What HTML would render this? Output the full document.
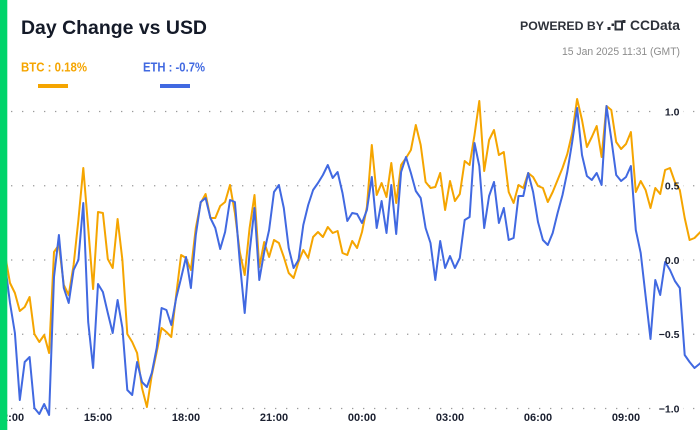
<!DOCTYPE html>
<html>
<head>
<meta charset="utf-8">
<style>
  html,body{margin:0;padding:0;background:#fff;}
  body{width:700px;height:430px;overflow:hidden;}
  svg{display:block;font-family:"Liberation Sans", "DejaVu Sans", sans-serif;}
</style>
</head>
<body>
<svg width="700" height="430" viewBox="0 0 700 430" xmlns="http://www.w3.org/2000/svg">
  <rect x="0" y="0" width="700" height="430" fill="#ffffff"/>

  <!-- Title -->
  <text x="21" y="34" font-size="19.5" font-weight="bold" fill="#141a28" textLength="186" lengthAdjust="spacingAndGlyphs">Day Change vs USD</text>

  <!-- Legend -->
  <text x="21" y="71.7" font-size="12.5" font-weight="bold" fill="#f5a500" textLength="66" lengthAdjust="spacingAndGlyphs">BTC : 0.18%</text>
  <rect x="38" y="84" width="30" height="4" fill="#f5a500"/>
  <text x="143" y="71.7" font-size="12.5" font-weight="bold" fill="#4169e1" textLength="62" lengthAdjust="spacingAndGlyphs">ETH : -0.7%</text>
  <rect x="160" y="84" width="30" height="4" fill="#4169e1"/>

  <!-- Powered by -->
  <text x="520" y="30" font-size="12" font-weight="bold" fill="#2e323a" textLength="84" lengthAdjust="spacingAndGlyphs">POWERED BY</text>
  <g fill="#2e323a">
    <rect x="607.5" y="27" width="3" height="3"/>
    <rect x="611.5" y="23.5" width="2.5" height="2.5"/>
    <rect x="615.5" y="21.5" width="6.5" height="8" fill="none" stroke="#2e323a" stroke-width="2"/>
    <rect x="622.5" y="20" width="3" height="3"/>
  </g>
  <text x="630" y="30" font-size="13.5" font-weight="bold" fill="#2e323a" textLength="50" lengthAdjust="spacingAndGlyphs">CCData</text>
  <text x="562" y="55" font-size="11" fill="#8c8c8c" textLength="118" lengthAdjust="spacingAndGlyphs">15 Jan 2025 11:31 (GMT)</text>

  <!-- Grid lines (dotted) -->
  <g stroke="#8f8f8f" stroke-width="1.2" stroke-dasharray="1.2 9.8" fill="none">
    <line x1="11.1" y1="111.5" x2="700" y2="111.5"/>
    <line x1="11.1" y1="185.75" x2="700" y2="185.75"/>
    <line x1="11.1" y1="260" x2="700" y2="260"/>
    <line x1="11.1" y1="334.25" x2="700" y2="334.25"/>
    <line x1="11.1" y1="408.5" x2="700" y2="408.5"/>
  </g>
  <!-- label backgrounds -->
  <g fill="#ffffff">
    <rect x="655" y="105" width="28" height="13"/>
    <rect x="655" y="179" width="28" height="13"/>
    <rect x="655" y="253.5" width="28" height="13"/>
    <rect x="655" y="328" width="28" height="13"/>
    <rect x="655" y="402" width="28" height="13"/>
  </g>

  <!-- BTC series -->
  <path fill="none" stroke="#f5a500" stroke-width="2" stroke-linejoin="round" d="M5.1,255 L10,283 L14.9,293 L19.8,311 L24.7,307 L29.6,297 L34.4,334 L39.3,342 L44.2,335 L49.1,353 L54,252 L58.9,245 L63.8,285 L68.7,295 L73.6,265 L78.4,220 L83.3,168 L88.2,228 L93.1,289 L98,212 L102.9,213 L107.8,259 L112.7,268 L117.6,219 L122.4,260 L127.3,334 L132.2,342 L137.1,353 L142,388 L146.9,407 L151.8,375 L156.7,352 L161.6,328 L166.4,332 L171.3,337 L176.2,295 L181.1,255 L186,258 L190.9,270 L195.8,228 L200.7,203 L205.6,194 L210.4,218 L215.3,218 L220.2,206 L225.1,202 L230,185 L234.9,213 L239.8,252 L244.7,275 L249.6,228 L254.5,195 L259.3,267 L264.2,242 L269.1,257 L274,240 L278.9,243 L283.8,257 L288.7,273 L293.6,278 L298.5,262 L303.3,250 L308.2,258 L313.1,237 L318,232 L322.9,237 L327.8,227 L332.7,233 L337.6,231 L342.5,253 L347.3,255 L352.2,241 L357.1,248 L362,232 L366.9,207 L371.8,145 L376.7,195 L381.6,183 L386.5,197 L391.3,163 L396.2,203 L401.1,165 L406,158 L410.9,150 L415.8,125 L420.7,145 L425.6,182 L430.5,188 L435.3,187 L440.2,173 L445.1,210 L450,181 L454.9,201 L459.8,194 L464.7,161 L469.6,165 L474.5,135 L479.3,101 L484.2,171 L489.1,140 L494,130 L498.9,155 L503.8,152 L508.7,192 L513.6,203 L518.5,185 L523.3,188 L528.2,173 L533.1,177 L538,186 L542.9,188 L547.8,202 L552.7,192 L557.6,180 L562.5,168 L567.3,154 L572.2,133 L577.1,99 L582,120 L586.9,147 L591.8,137 L596.7,126 L601.6,157 L606.5,106 L611.3,110 L616.2,142 L621.1,149 L626,144 L630.9,132 L635.8,192 L640.7,181 L645.6,190 L650.5,208 L655.3,188 L660.2,194 L665.1,170 L670,168 L674.9,182 L679.8,190 L684.7,218 L689.6,240 L694.5,238 L699.4,233 L704,228"/>

  <!-- ETH series -->
  <path fill="none" stroke="#4169e1" stroke-width="2" stroke-linejoin="round" d="M5.1,265 L10,303 L14.9,333 L19.8,400 L24.7,362 L29.6,357 L34.4,408 L39.3,414 L44.2,404 L49.1,415 L54,277 L58.9,235 L63.8,288 L68.7,303 L73.6,270 L78.4,260 L83.3,203 L88.2,322 L93.1,368 L98,284 L102.9,292 L107.8,313 L112.7,333 L117.6,300 L122.4,328 L127.3,390 L132.2,395 L137.1,362 L142,382 L146.9,387 L151.8,373 L156.7,348 L161.6,308 L166.4,310 L171.3,325 L176.2,298 L181.1,278 L186,257 L190.9,288 L195.8,235 L200.7,202 L205.6,198 L210.4,218 L215.3,228 L220.2,249 L225.1,232 L230,200 L234.9,202 L239.8,262 L244.7,313 L249.6,252 L254.5,208 L259.3,280 L264.2,252 L269.1,230 L274,192 L278.9,185 L283.8,208 L288.7,248 L293.6,268 L298.5,260 L303.3,225 L308.2,205 L313.1,190 L318,183 L322.9,175 L327.8,165 L332.7,178 L337.6,172 L342.5,193 L347.3,221 L352.2,213 L357.1,214 L362,223 L366.9,210 L371.8,177 L376.7,228 L381.6,201 L386.5,233 L391.3,185 L396.2,234 L401.1,172 L406,157 L410.9,173 L415.8,191 L420.7,198 L425.6,228 L430.5,243 L435.3,280 L440.2,241 L445.1,268 L450,256 L454.9,268 L459.8,258 L464.7,220 L469.6,217 L474.5,143 L479.3,166 L484.2,228 L489.1,196 L494,182 L498.9,223 L503.8,208 L508.7,240 L513.6,238 L518.5,196 L523.3,196 L528.2,173 L533.1,192 L538,222 L542.9,240 L547.8,245 L552.7,233 L557.6,213 L562.5,195 L567.3,172 L572.2,142 L577.1,108 L582,155 L586.9,176 L591.8,180 L596.7,173 L601.6,185 L606.5,106 L611.3,139 L616.2,175 L621.1,181 L626,177 L630.9,166 L635.8,230 L640.7,253 L645.6,296 L650.5,339 L655.3,280 L660.2,295 L665.1,262 L670,270 L674.9,281 L679.8,288 L684.7,355 L689.6,362 L694.5,368 L699.4,364 L704,360"/>

  <!-- Y axis labels -->
  <g font-size="10.5" font-weight="bold" fill="#1b2030" text-anchor="end">
    <text x="679.5" y="115.3">1.0</text>
    <text x="679.5" y="189.5">0.5</text>
    <text x="679.5" y="263.8">0.0</text>
    <text x="679.5" y="338">−0.5</text>
    <text x="679.5" y="412.3">−1.0</text>
  </g>

  <!-- X axis labels -->
  <g font-size="11" font-weight="bold" fill="#1b2030" text-anchor="middle">
    <text x="10" y="421">12:00</text>
    <text x="98" y="421">15:00</text>
    <text x="186" y="421">18:00</text>
    <text x="274" y="421">21:00</text>
    <text x="362" y="421">00:00</text>
    <text x="450" y="421">03:00</text>
    <text x="538" y="421">06:00</text>
    <text x="626" y="421">09:00</text>
  </g>

  <!-- Left green accent bar -->
  <rect x="0" y="0" width="7.3" height="430" fill="#00d46a"/>
</svg>
</body>
</html>
